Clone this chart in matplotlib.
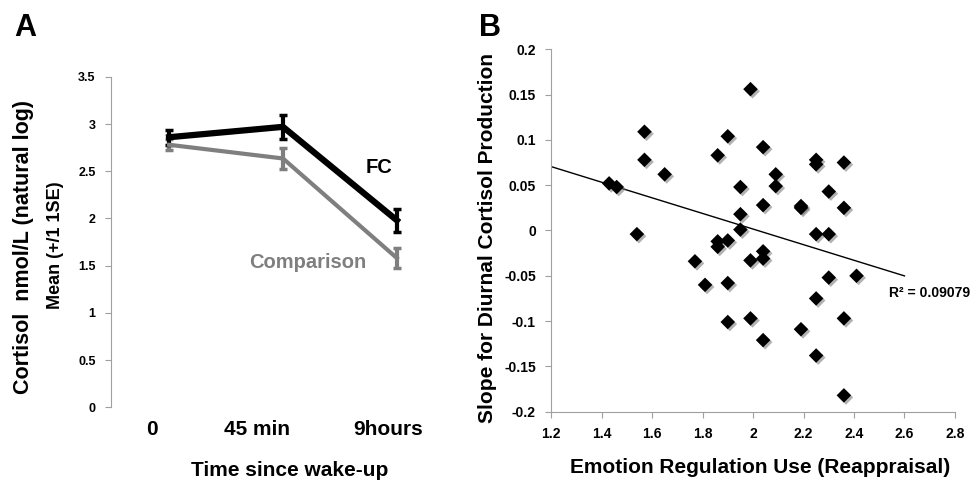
import numpy as np
import matplotlib
matplotlib.use("Agg")
import matplotlib.pyplot as plt
import matplotlib.patheffects as pe

# Panel A: cortisol means over the day
time_labels = ["0", "45 min", "9hours"]
fc_mean = [2.86, 2.97, 1.98]
fc_se = [0.08, 0.13, 0.125]
comp_mean = [2.78, 2.635, 1.58]
comp_se = [0.06, 0.11, 0.11]

# Panel B: emotion regulation vs. diurnal slope
reappraisal = [1.43, 1.46, 1.54, 1.57, 1.57, 1.65, 1.77, 1.81, 1.86, 1.86,
               1.86, 1.90, 1.90, 1.90, 1.90, 1.95, 1.95, 1.95, 1.99, 1.99,
               1.99, 2.04, 2.04, 2.04, 2.04, 2.04, 2.09, 2.09, 2.19, 2.19,
               2.19, 2.25, 2.25, 2.25, 2.25, 2.25, 2.30, 2.30, 2.30, 2.36,
               2.36, 2.36, 2.36, 2.41]
slope = [0.052, 0.048, -0.004, 0.109, 0.078, 0.062, -0.034, -0.060, 0.083, -0.012,
         -0.018, 0.104, -0.011, -0.058, -0.101, 0.048, 0.018, 0.001, 0.156, -0.033,
         -0.097, 0.092, 0.028, -0.023, -0.031, -0.121, 0.062, 0.049, 0.025, 0.027,
         -0.109, 0.078, 0.073, -0.004, -0.075, -0.138, 0.043, -0.004, -0.052, 0.075,
         0.025, -0.097, -0.182, -0.050]
trend_intercept = 0.174
trend_slope = -0.0862
trend_range = [1.2, 2.6]

axis_grey = "#a0a0a0"
mid_grey = "#7f7f7f"
title_font = "Liberation Sans"
tick_font = "Liberation Sans"

fig = plt.figure(figsize=(9.71, 4.80), dpi=100)

# ---------- Panel A ----------
axA = fig.add_axes([0.1143, 0.1515, 0.339, 0.6885])
x = np.arange(len(time_labels))
axA.errorbar(x, comp_mean, yerr=comp_se, color=mid_grey, lw=3, elinewidth=3,
             capsize=3, capthick=2.5)
axA.errorbar(x, fc_mean, yerr=fc_se, color="black", lw=4.5, elinewidth=3,
             capsize=3, capthick=2.5)

axA.set_ylim(0, 3.5)
axA.set_xlim(-0.51, 2.38)
axA.set_yticks(np.arange(0, 3.51, 0.5))
axA.set_yticklabels(["0", "0.5", "1", "1.5", "2", "2.5", "3", "3.5"],
                    fontfamily=tick_font, fontweight="bold", fontsize=9)
axA.set_xticks([-0.152, 0.774, 1.923])
axA.set_xticklabels(time_labels, fontfamily=title_font, fontweight="bold", fontsize=15)
axA.tick_params(axis="x", length=0, pad=9)
axA.tick_params(axis="y", direction="out", length=4, color=axis_grey, pad=7)
for s in ["top", "right", "bottom"]:
    axA.spines[s].set_visible(False)
axA.spines["left"].set_color(axis_grey)

axA.set_ylabel("Cortisol  nmol/L (natural log)", fontfamily=title_font,
               fontweight="bold", fontsize=15.5)
axA.yaxis.set_label_coords(-0.267, 0.485)
axA.yaxis.label.set_va("center")
axA.text(-0.170, 0.491, "Mean (+/1 1SE)", transform=axA.transAxes, rotation=90,
         ha="center", va="center", fontfamily=title_font, fontweight="bold", fontsize=13)
axA.set_xlabel("Time since wake-up", fontfamily=title_font, fontweight="bold", fontsize=15)
axA.xaxis.set_label_coords(0.544, -0.19)
axA.xaxis.label.set_va("center")

axA.text(1.847, 2.543, "FC", ha="center", va="center", fontfamily=title_font,
         fontweight="bold", fontsize=14.5, color="black")
axA.text(1.214, 1.538, "Comparison", ha="center", va="center", fontfamily=title_font,
         fontweight="bold", fontsize=14.5, color=mid_grey)

# ---------- Panel B ----------
axB = fig.add_axes([0.5675, 0.1423, 0.416, 0.755])
axB.scatter(reappraisal, slope, marker="D", s=55, color="black", linewidths=0,
            zorder=3,
            path_effects=[pe.SimplePatchShadow(offset=(1.5, -1.5), shadow_rgbFace="0.45",
                                               alpha=0.55), pe.Normal()])
tx = np.array(trend_range)
axB.plot(tx, trend_intercept + trend_slope * tx, color="black", lw=1, zorder=2)

axB.set_xlim(1.2, 2.8)
axB.set_ylim(-0.2, 0.2)
axB.set_xticks(np.arange(1.2, 2.81, 0.2))
axB.set_xticklabels(["1.2", "1.4", "1.6", "1.8", "2", "2.2", "2.4", "2.6", "2.8"],
                    fontfamily=tick_font, fontweight="bold", fontsize=10)
axB.set_yticks(np.arange(-0.2, 0.201, 0.05))
axB.set_yticklabels(["-0.2", "-0.15", "-0.1", "-0.05", "0", "0.05", "0.1", "0.15", "0.2"],
                    fontfamily=tick_font, fontweight="bold", fontsize=10)
axB.tick_params(direction="out", length=4, color=axis_grey, pad=7)
for s in ["top", "right"]:
    axB.spines[s].set_visible(False)
for s in ["left", "bottom"]:
    axB.spines[s].set_color(axis_grey)

axB.set_ylabel("Slope for Diurnal Cortisol Production", fontfamily=title_font,
               fontweight="bold", fontsize=15)
axB.yaxis.set_label_coords(-0.158, 0.479)
axB.yaxis.label.set_va("center")
axB.set_xlabel("Emotion Regulation Use (Reappraisal)", fontfamily=title_font,
               fontweight="bold", fontsize=15)
axB.xaxis.set_label_coords(0.517, -0.153)
axB.xaxis.label.set_va("center")

axB.text(2.70, -0.0695, "R² = 0.09079", ha="center", va="center",
         fontfamily=tick_font, fontweight="bold", fontsize=10)

# Panel letters
fig.text(25 / 971, 1 - 28 / 480, "A", ha="center", va="center",
         fontfamily=title_font, fontweight="bold", fontsize=22)
fig.text(490 / 971, 1 - 28 / 480, "B", ha="center", va="center",
         fontfamily=title_font, fontweight="bold", fontsize=22)

fig.savefig("out.png", dpi=100)
